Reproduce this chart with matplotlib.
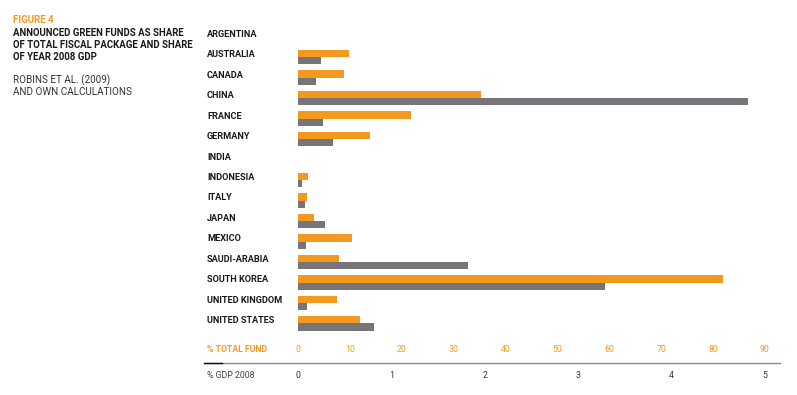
import matplotlib
matplotlib.use("Agg")
import matplotlib.pyplot as plt
from matplotlib.lines import Line2D

countries = ["ARGENTINA", "AUSTRALIA", "CANADA", "CHINA", "FRANCE", "GERMANY", "INDIA",
             "INDONESIA", "ITALY", "JAPAN", "MEXICO", "SAUDI-ARABIA", "SOUTH KOREA",
             "UNITED KINGDOM", "UNITED STATES"]
fund_share = [0, 9.8, 8.8, 35.2, 21.7, 13.8, 0, 1.9, 1.7, 3.1, 10.4, 7.9, 81.9, 7.5, 11.9]
gdp_share = [0, 0.25, 0.19, 4.82, 0.27, 0.38, 0, 0.04, 0.07, 0.29, 0.085, 1.82, 3.29, 0.10, 0.81]
fund_ticks = [0, 10, 20, 30, 40, 50, 60, 70, 80, 90]
gdp_ticks = [0, 1, 2, 3, 4, 5]

ORANGE = "#F4991F"
GREY = "#76767A"
W, H = 797, 395

plt.rcParams['font.family'] = ['Roboto', 'DejaVu Sans']

fig = plt.figure(figsize=(W / 100, H / 100), dpi=100)

# axes placed in pixel terms: x 298..765, y 23..363
left, right, top, bottom = 298, 765, 23, 363
ax = fig.add_axes([left / W, 1 - bottom / H, (right - left) / W, (bottom - top) / H])
ax2 = ax.twiny()

pos = list(range(len(countries)))
bh = 0.345
ax.barh(pos, fund_share, height=bh, color=ORANGE, align='center')
ax2.barh([p + bh for p in pos], gdp_share, height=bh, color=GREY, align='center')

ax.set_xlim(0, 90)
ax2.set_xlim(0, 5 * (right - left) / (768 - left))
ax.set_ylim(16.1, -0.49)

for a in (ax, ax2):
    for s in a.spines.values():
        s.set_visible(False)

ax.set_yticks(pos)
ax.set_yticklabels(countries, fontsize=6.6, fontweight='bold', color='#1a1a1a')
ax.tick_params(axis='y', length=0, pad=(left - 207) * 0.72)
for lab in ax.get_yticklabels():
    lab.set_ha('left')

ax.set_xticks(fund_ticks)
ax.set_xticklabels([str(t) for t in fund_ticks], fontsize=6.3, color=ORANGE)
ax.tick_params(axis='x', length=0, pad=-13)

ax2.xaxis.set_ticks_position('bottom')
ax2.xaxis.set_label_position('bottom')
ax2.set_xticks(gdp_ticks)
ax2.set_xticklabels([str(t) for t in gdp_ticks], fontsize=6.3, color='#333333')
ax2.tick_params(axis='x', length=0, pad=6)

# axis line under the fund labels
y_line = 1 - 362.5 / H
fig.add_artist(Line2D([204 / W, 780 / W], [y_line, y_line], color='#8a8a8a', lw=1.0))
fig.add_artist(Line2D([204 / W, 222 / W], [y_line, y_line], color='#111111', lw=1.0))

fig.text(207 / W, 1 - 349 / H, "% TOTAL FUND", fontsize=6.3, fontweight='bold',
         color=ORANGE, va='center', ha='left')
fig.text(207 / W, 1 - 375 / H, "% GDP 2008", fontsize=6.3, color='#444444',
         va='center', ha='left')

# heading block
fig.text(13 / W, 1 - 20 / H, "FIGURE 4", fontsize=7.0, fontweight='bold', color=ORANGE,
         va='center', ha='left')
for i, line in enumerate(["ANNOUNCED GREEN FUNDS AS SHARE",
                          "OF TOTAL FISCAL PACKAGE AND SHARE",
                          "OF YEAR 2008 GDP"]):
    fig.text(13 / W, 1 - (33 + 12 * i) / H, line, fontsize=6.9, fontweight='bold',
             color='#1a1a1a', va='center', ha='left')
for i, line in enumerate(["ROBINS ET AL. (2009)", "AND OWN CALCULATIONS"]):
    fig.text(13 / W, 1 - (80 + 12 * i) / H, line, fontsize=7.1, color='#333333',
             va='center', ha='left')

fig.savefig("out.png", dpi=100)
